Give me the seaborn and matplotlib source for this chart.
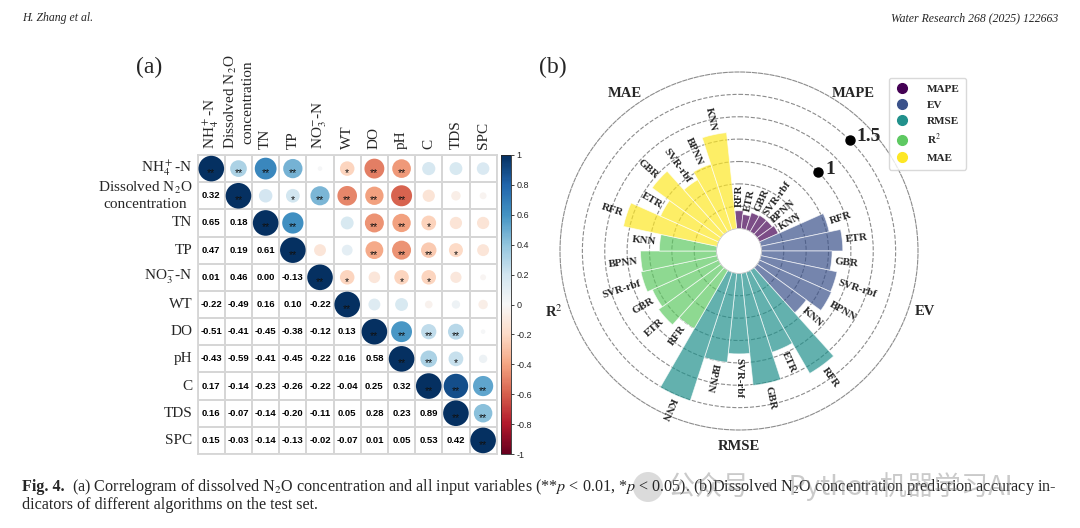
import numpy as np
import pandas as pd
import matplotlib
matplotlib.use("Agg")
import matplotlib.pyplot as plt
from matplotlib.colors import ListedColormap, Normalize
from matplotlib.lines import Line2D
from matplotlib.patches import Ellipse
import seaborn as sns

sns.set_theme(style="white")
plt.rcParams['font.family'] = ['Liberation Serif', 'DejaVu Serif']
plt.rcParams['mathtext.fontset'] = 'stix'

# ---------- data, panel (a) ----------
variables = [r'NH$_4^+$-N', 'Dissolved N$_2$O\nconcentration', 'TN', 'TP',
             r'NO$_3^{-}$-N', 'WT', 'DO', 'pH', 'C', 'TDS', 'SPC']

# lower triangle (row i, columns 0..i-1)
corr_lower = [
    [],
    [0.32],
    [0.65, 0.18],
    [0.47, 0.19, 0.61],
    [0.01, 0.46, 0.00, -0.13],
    [-0.22, -0.49, 0.16, 0.10, -0.22],
    [-0.51, -0.41, -0.45, -0.38, -0.12, 0.13],
    [-0.43, -0.59, -0.41, -0.45, -0.22, 0.16, 0.58],
    [0.17, -0.14, -0.23, -0.26, -0.22, -0.04, 0.25, 0.32],
    [0.16, -0.07, -0.14, -0.20, -0.11, 0.05, 0.28, 0.23, 0.89],
    [0.15, -0.03, -0.14, -0.13, -0.02, -0.07, 0.01, 0.05, 0.53, 0.42],
]

# significance marks, upper triangle (row i, columns i..10)
stars_upper = [
    ['**', '**', '**', '**', '', '*', '**', '**', '', '', ''],
    ['**', '', '*', '**', '**', '**', '**', '', '', ''],
    ['**', '**', '', '', '**', '**', '*', '', ''],
    ['**', '', '', '**', '**', '**', '*', ''],
    ['**', '*', '', '*', '*', '', ''],
    ['**', '', '', '', '', ''],
    ['**', '**', '**', '**', ''],
    ['**', '**', '*', ''],
    ['**', '**', '**'],
    ['**', '**'],
    ['**'],
]

cbar_ticks = [-1, -0.8, -0.6, -0.4, -0.2, 0, 0.2, 0.4, 0.6, 0.8, 1]
cbar_labels = ['-1', '-0.8', '-0.6', '-0.4', '-0.2', '0', '0.2', '0.4', '0.6', '0.8', '1']

# ---------- data, panel (b) ----------
models = ['RFR', 'ETR', 'GBR', 'SVR-rbf', 'BPNN', 'KNN']
metrics = ['MAPE', 'EV', 'RMSE', r'R$^2$', 'MAE']
mape = [0.20, 0.16, 0.20, 0.21, 0.21, 0.23]
ev = [0.78, 0.91, 0.79, 0.87, 0.88, 0.68]
rmse = [1.33, 0.94, 1.26, 0.90, 1.00, 1.51]
r2 = [0.75, 0.86, 0.81, 0.87, 0.85, 0.64]
mae = [1.07, 0.71, 0.95, 0.67, 0.77, 1.08]

n = len(variables)
corr = np.eye(n)
for i, row in enumerate(corr_lower):
    for j, v in enumerate(row):
        corr[i, j] = v
        corr[j, i] = v

fig = plt.figure(figsize=(10.8, 5.28), dpi=100)
W, H = 1080, 528

# ---------- (a) correlogram ----------
ax_a = fig.add_axes([197.7 / W, 1 - 454 / H, 299 / W, 299 / H])
cax = fig.add_axes([501 / W, 1 - 454 / H, 10 / W, 299 / H])

annot = np.full((n, n), '', dtype=object)
for i in range(n):
    for j in range(i):
        annot[i, j] = f'{corr[i, j]:.2f}'

sns.heatmap(np.zeros((n, n)), ax=ax_a, cmap=ListedColormap(['white']), cbar=False,
            linewidths=1.3, linecolor='#d6d6d6', annot=annot, fmt='',
            annot_kws=dict(fontsize=6.8, fontweight='bold', family='Liberation Sans', color='black'),
            xticklabels=variables, yticklabels=variables)

rows = []
for i in range(n):
    for j in range(i, n):
        rows.append(dict(x=j + 0.5, y=i + 0.5, r=corr[i, j],
                         area=abs(corr[i, j]) ** 0.75, star=stars_upper[i][j - i]))
df_up = pd.DataFrame(rows)

sns.scatterplot(data=df_up, x='x', y='y', hue='r', palette='RdBu', hue_norm=(-1, 1),
                size='area', sizes=(0, 340), size_norm=(0, 1), linewidth=0,
                legend=False, ax=ax_a, zorder=3)
for _, rw in df_up.iterrows():
    if rw['star']:
        ax_a.text(rw['x'], rw['y'] + 0.17, rw['star'], ha='center', va='center',
                  fontsize=7.5, color='#111111', family='Liberation Sans', zorder=4)

ax_a.set_xlim(0, n)
ax_a.set_ylim(n, 0)
ax_a.set_xlabel('')
ax_a.set_ylabel('')
ax_a.set_xticks(np.arange(n) + 0.5)
ax_a.set_yticks(np.arange(n) + 0.5)
ax_a.set_xticklabels(variables, rotation=90, fontsize=11)
ax_a.set_yticklabels(variables, rotation=0, fontsize=11)
ax_a.xaxis.tick_top()
ax_a.tick_params(length=0, pad=4)
for t in ax_a.get_xticklabels() + ax_a.get_yticklabels():
    t.set_multialignment('center')
for s in ax_a.spines.values():
    s.set_visible(True)
    s.set_color('#d6d6d6')
    s.set_linewidth(1.3)

sm = plt.cm.ScalarMappable(cmap='RdBu', norm=Normalize(-1, 1))
cb = fig.colorbar(sm, cax=cax, ticks=cbar_ticks)
cb.ax.set_yticklabels(cbar_labels, family='Liberation Sans', fontsize=6.5)
cb.ax.tick_params(length=2, width=0.6, pad=2)
cb.outline.set_linewidth(0.6)

# ---------- (b) circular bar chart ----------
ax_b = fig.add_axes([560 / W, 1 - 430 / H, 358 / W, 358 / H], projection='polar')
ax_b.set_theta_zero_location('N')
ax_b.set_theta_direction(-1)

values = mape + ev + rmse + r2 + mae
palette = [plt.cm.viridis(x) for x in np.linspace(0, 1, len(metrics))]
colors = [palette[k // len(models)] for k in range(len(values))]
step = 2 * np.pi / len(values)
theta = np.arange(len(values)) * step

ax_b.bar(theta, values, width=step, color=colors, alpha=0.7, edgecolor='white', linewidth=0.6)
ax_b.set_ylim(0, 1.75)
ax_b.set_rorigin(-0.25)
ax_b.set_yticks([0.25, 0.5, 0.75, 1.0, 1.25, 1.5])
ax_b.set_yticklabels([])
ax_b.set_xticks([])
ax_b.yaxis.grid(True, linestyle='--', color='#8c8c8c', linewidth=0.8)
ax_b.xaxis.grid(False)
ax_b.spines['polar'].set_linestyle('--')
ax_b.spines['polar'].set_color('#8c8c8c')
ax_b.spines['polar'].set_linewidth(0.8)
ax_b.spines['inner'].set_color('#c0c0c0')
ax_b.spines['inner'].set_linewidth(0.5)

for k, (t, v) in enumerate(zip(theta, values)):
    a = (90 - np.degrees(t)) % 360
    if 90 < a < 240:
        rot, ha = a - 180, 'right'
    else:
        rot, ha = a, 'left'
    ax_b.text(t, v + 0.04, models[k % len(models)], rotation=rot, rotation_mode='anchor',
              ha=ha, va='center', fontsize=7.8, fontweight='bold')

for g, name in enumerate(metrics):
    ax_b.text(np.radians(36 + 72 * g), 1.93, name, ha='center', va='center',
              fontsize=10.5, fontweight='bold')

ax_b.plot([np.pi / 4, np.pi / 4], [1.0, 1.5], 'o', color='black', ms=6.5, clip_on=False, zorder=5)
ax_b.annotate('1', (np.pi / 4, 1.0), xytext=(5, 2), textcoords='offset points',
              fontsize=14, fontweight='bold', va='center')
ax_b.annotate('1.5', (np.pi / 4, 1.5), xytext=(5, 3), textcoords='offset points',
              fontsize=14, fontweight='bold', va='center')

handles = [Line2D([0], [0], marker='o', ls='', color=c, ms=7) for c in palette]
fig.legend(handles, metrics, loc='upper right', bbox_to_anchor=(972 / W, 1 - 72 / H),
           prop=dict(family='Liberation Serif', weight='bold', size=8), frameon=True,
           edgecolor='#d0d0d0', handletextpad=1.6, labelspacing=0.55, borderpad=0.6,
           handlelength=1.2)

# ---------- page text ----------
fig.text(149 / W, 1 - 67 / H, '(a)', fontsize=17, ha='center', va='center')
fig.text(553 / W, 1 - 67 / H, '(b)', fontsize=17, ha='center', va='center')
fig.text(22 / W, 1 - 18 / H, 'H. Zhang et al.', style='italic', fontsize=8.5, va='center')
fig.text(1058 / W, 1 - 18 / H, 'Water Research 268 (2025) 122663', style='italic',
         fontsize=8.5, ha='right', va='center')
fig.text(22 / W, 1 - 487 / H, 'Fig. 4.', fontweight='bold', fontsize=11.6, va='center')
fig.text(72 / W, 1 - 487 / H,
         '(a) Correlogram of dissolved N$_2$O concentration and all input variables '
         '(**$p$ < 0.01, *$p$ < 0.05). (b)Dissolved N$_2$O concentration prediction accuracy in-',
         fontsize=11.6, va='center')
fig.text(22 / W, 1 - 505 / H, 'dicators of different algorithms on the test set.',
         fontsize=11.6, va='center')

# watermark
fig.patches.append(Ellipse((648 / W, 1 - 487 / H), 30 / W, 30 / H, transform=fig.transFigure,
                           facecolor='#9a9a9a', alpha=0.35, edgecolor='none'))
fig.text(668 / W, 1 - 487 / H, '公众号 · Python机器学习AI', fontsize=19.5, color='#8a8a8a',
         alpha=0.45, family=['Noto Sans CJK SC', 'DejaVu Sans'], va='center')

fig.savefig('out.png', dpi=100, facecolor='white')
